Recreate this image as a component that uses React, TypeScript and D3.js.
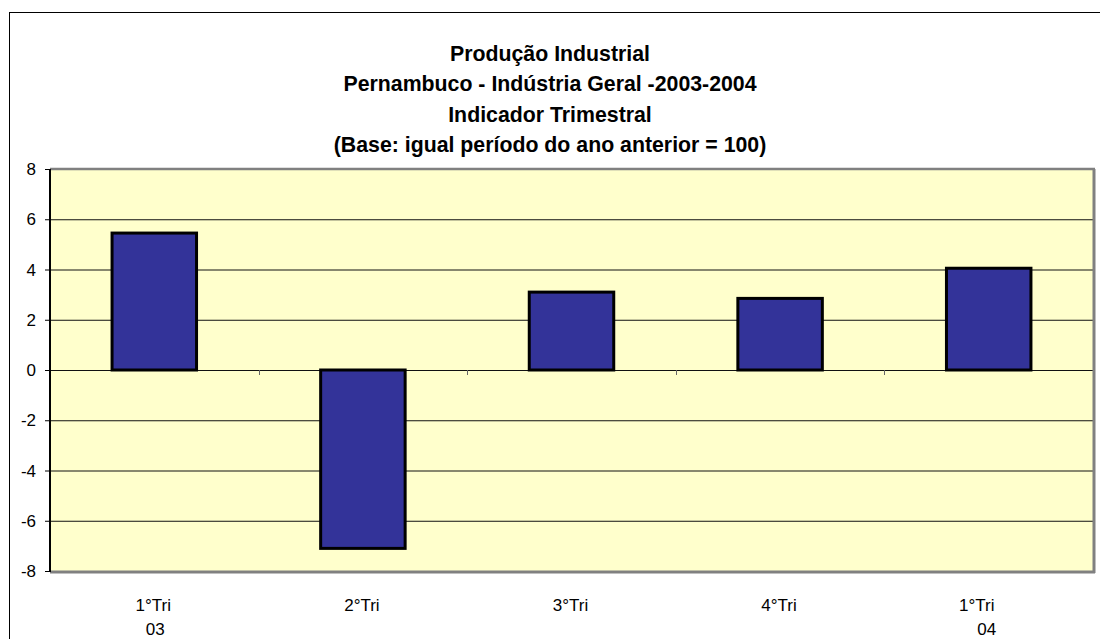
import React from "react";
import * as d3 from "d3";

const titleLines = [
  "Produção Industrial",
  "Pernambuco - Indústria Geral -2003-2004",
  "Indicador Trimestral",
  "(Base: igual período do ano anterior = 100)",
];
const categories = ["1°Tri\n03", "2°Tri", "3°Tri", "4°Tri", "1°Tri\n04"];
const values = [5.45, -7.1, 3.1, 2.85, 4.05];
const yTicks = [8, 6, 4, 2, 0, -2, -4, -6, -8];

const W = 1100;
const H = 639;
const plot = { left: 50, top: 169, right: 1093, bottom: 571 };

export default function App() {
  const x = d3
    .scaleBand<string>()
    .domain(categories)
    .range([plot.left, plot.right])
    .paddingInner(0)
    .paddingOuter(0);
  const y = d3.scaleLinear().domain([-8, 8]).range([plot.bottom, plot.top]);
  const bw = x.bandwidth();
  const barW = bw * 0.405;
  const font = "'Liberation Sans', Arial, sans-serif";

  return (
    <svg
      width={W}
      height={H}
      style={{ position: "absolute", left: 0, top: 0, background: "#fff" }}
      fontFamily={font}
    >
      <rect x={9.5} y={12.5} width={1200} height={800} fill="#fff" stroke="#000" strokeWidth={1} />
      {titleLines.map((t, i) => (
        <text
          key={i}
          x={550}
          y={61 + i * 30.4}
          textAnchor="middle"
          fontWeight="bold"
          fontSize={21.3}
          fill="#000"
        >
          {t}
        </text>
      ))}
      {/* plot area */}
      <rect
        x={plot.left}
        y={plot.top}
        width={plot.right - plot.left}
        height={plot.bottom - plot.top}
        fill="#FFFFCC"
      />
      {/* gridlines */}
      {yTicks.map((t) =>
        t === 8 || t === -8 ? null : (
          <line
            key={"g" + t}
            x1={plot.left}
            x2={plot.right}
            y1={y(t) + 0.5}
            y2={y(t) + 0.5}
            stroke="#111"
            strokeWidth={1}
          />
        )
      )}
      {/* border gray */}
      <line x1={plot.left} x2={plot.right + 2} y1={plot.top} y2={plot.top} stroke="#808080" strokeWidth={2.5} />
      <line x1={plot.right + 1} x2={plot.right + 1} y1={plot.top} y2={plot.bottom + 2} stroke="#808080" strokeWidth={3} />
      <line x1={plot.left} x2={plot.right + 2} y1={plot.bottom + 1} y2={plot.bottom + 1} stroke="#808080" strokeWidth={3} />
      {/* x category ticks at zero */}
      {categories.slice(1).map((c) => (
        <line
          key={"xt" + c}
          x1={Math.round(x(c) as number) + 0.5}
          x2={Math.round(x(c) as number) + 0.5}
          y1={y(0)}
          y2={y(0) + 5}
          stroke="#666"
          strokeWidth={1}
        />
      ))}
      {/* bars */}
      {values.map((v, i) => {
        const c = categories[i];
        const cx = (x(c) as number) + bw / 2;
        const y0 = y(Math.max(0, v));
        const y1 = y(Math.min(0, v));
        return (
          <rect
            key={"b" + i}
            x={cx - barW / 2}
            y={y0}
            width={barW}
            height={y1 - y0}
            fill="#333399"
            stroke="#000"
            strokeWidth={3}
          />
        );
      })}
      {/* y axis */}
      <line x1={plot.left} x2={plot.left} y1={plot.top} y2={plot.bottom + 1} stroke="#000" strokeWidth={2} />
      {yTicks.map((t) => (
        <g key={"yt" + t}>
          <line x1={plot.left - 5} x2={plot.left} y1={y(t) + 0.5} y2={y(t) + 0.5} stroke="#000" strokeWidth={1} />
          <text x={36} y={y(t) + 6} textAnchor="end" fontSize={17} fill="#000">
            {t}
          </text>
        </g>
      ))}
      {/* x labels */}
      {categories.map((c, i) => {
        const cx = (x(c) as number) + bw / 2;
        const parts = c.split("\n");
        const last = i === categories.length - 1;
        return (
          <g key={"xl" + i}>
            {parts.map((p, j) => (
              <text
                key={j}
                x={cx + (last ? (j === 0 ? -12 : -2) : j === 1 ? 1 : -1)}
                y={611 + j * 24}
                textAnchor="middle"
                fontSize={17}
                fill="#000"
              >
                {p}
              </text>
            ))}
          </g>
        );
      })}
    </svg>
  );
}
